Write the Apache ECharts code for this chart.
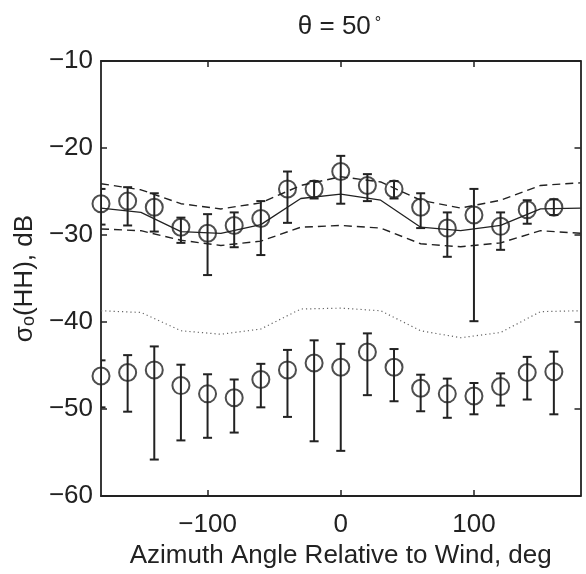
<!DOCTYPE html>
<html>
<head>
<meta charset="utf-8">
<script src="https://cdn.jsdelivr.net/npm/echarts@6/dist/echarts.min.js"></script>
<style>
html,body{margin:0;padding:0;background:#fff;}
#chart{width:586px;height:574px;}
</style>
</head>
<body>
<div id="chart"></div>
<script>
// Observation azimuths (deg)
const angles = [-180,-160,-140,-120,-100,-80,-60,-40,-20,0,20,40,60,80,100,120,140,160];
// Upper set (HH) mean and error bar ends (dB)
const hhMean = [-26.4,-26.1,-26.8,-29.1,-29.8,-28.9,-28.1,-24.7,-24.7,-22.7,-24.3,-24.7,-26.8,-29.2,-27.7,-29.0,-27.1,-26.8];
const hhHi   = [-24.7,-24.5,-25.2,-28.0,-27.6,-27.4,-26.1,-22.7,-23.8,-20.9,-23.0,-23.8,-25.2,-27.4,-24.7,-27.4,-26.0,-25.9];
const hhLo   = [-28.8,-28.9,-29.6,-30.9,-34.6,-31.4,-32.3,-28.6,-25.8,-26.4,-26.1,-25.8,-29.2,-32.5,-39.9,-31.7,-28.7,-27.7];
// Lower set mean and error bar ends (dB)
const lowMean = [-46.2,-45.8,-45.5,-47.3,-48.25,-48.7,-46.6,-45.5,-44.7,-45.2,-43.45,-45.2,-47.6,-48.25,-48.5,-47.4,-45.8,-45.7];
const lowHi   = [-44.4,-43.8,-42.8,-44.9,-46.0,-46.6,-44.8,-43.2,-42.1,-42.5,-41.3,-43.1,-46.05,-46.5,-47.0,-45.9,-44.0,-43.4];
const lowLo   = [-49.8,-50.3,-55.8,-53.6,-53.3,-52.7,-49.8,-50.9,-53.7,-54.8,-48.4,-49.1,-50.25,-51.0,-50.6,-49.6,-48.9,-50.6];
// Model curves
const modelAngles = [-180,-150,-120,-90,-60,-30,0,30,60,90,120,150,180];
const modelMid    = [-26.9,-27.4,-29.6,-29.8,-28.8,-25.8,-25.3,-26.0,-29.1,-29.5,-28.9,-27.0,-26.9];
const modelUpper  = [-24.1,-24.8,-26.4,-27.0,-26.3,-24.3,-23.3,-23.9,-26.0,-26.9,-26.0,-24.3,-24.0];
const modelLower  = [-29.3,-29.5,-30.6,-31.2,-30.7,-29.1,-28.9,-29.2,-31.0,-31.35,-30.9,-29.5,-29.8];
const modelDotted = [-38.7,-38.9,-41.0,-41.4,-40.8,-38.5,-38.4,-38.7,-41.0,-41.8,-41.2,-38.8,-38.7];
// Tick values
const xTicks = [-100,0,100];
const yTicks = [-60,-50,-40,-30,-20,-10];

const INK = '#222';
const FONT = 'Liberation Sans';
const minus = v => String(v).replace('-', '\u2212');

const pairs = (xs, ys) => xs.map((x,i)=>[x, ys[i]]);
const bars = (hi, lo) => angles.map((a,i)=>[a, hi[i], lo[i]]);

function renderBar(params, api){
  const x = api.value(0);
  const p1 = api.coord([x, api.value(1)]);
  const p2 = api.coord([x, api.value(2)]);
  const w = 4.5;
  const st = {stroke: INK, lineWidth: 2};
  return {type:'group', children:[
    {type:'line', shape:{x1:p1[0],y1:p1[1],x2:p2[0],y2:p2[1]}, style:st},
    {type:'line', shape:{x1:p1[0]-w,y1:p1[1],x2:p1[0]+w,y2:p1[1]}, style:st},
    {type:'line', shape:{x1:p2[0]-w,y1:p2[1],x2:p2[0]+w,y2:p2[1]}, style:st}
  ]};
}

const axisLineStyle = {show:true, onZero:false, lineStyle:{color:INK, width:1.8}};
const tickStyle = {show:true, inside:true, length:6, lineStyle:{color:INK, width:1.5}};

const chart = echarts.init(document.getElementById('chart'), null, {renderer:'canvas'});
chart.setOption({
  animation:false,
  backgroundColor:'#fff',
  textStyle:{fontFamily:FONT},
  title:{
    text:'{a|\u03b8 = 50}{s|\u00b0}',
    left:334.5, top:9, textAlign:'center',
    textStyle:{
      fontWeight:'normal',
      rich:{
        a:{fontSize:26, fontWeight:'normal', fontFamily:FONT, color:INK, lineHeight:26, padding:[10,0,0,0], verticalAlign:'bottom'},
        s:{fontSize:16, fontWeight:'normal', fontFamily:FONT, color:INK, lineHeight:16, padding:[2,0,0,4], verticalAlign:'top'}
      }
    }
  },
  grid:{left:88.5, right:5.5, top:61, bottom:72.5, containLabel:false},
  xAxis:[{
    type:'value', min:-180, max:180, position:'bottom',
    axisLine:axisLineStyle,
    axisTick:Object.assign({customValues:xTicks}, tickStyle),
    axisLabel:{customValues:xTicks, fontSize:26, color:INK, fontFamily:FONT, margin:16, formatter:minus},
    splitLine:{show:false},
    name:'Azimuth Angle Relative to Wind, deg', nameLocation:'middle', nameGap:46,
    nameTextStyle:{fontSize:26, color:INK, fontFamily:FONT}
  },{
    type:'value', min:-180, max:180, position:'top',
    axisLine:axisLineStyle,
    axisTick:Object.assign({customValues:xTicks}, tickStyle),
    axisLabel:{show:false}, splitLine:{show:false}
  }],
  yAxis:[{
    type:'value', min:-60, max:-10, interval:10, position:'left',
    axisLine:axisLineStyle,
    axisTick:tickStyle,
    axisLabel:{fontSize:26, color:INK, fontFamily:FONT, margin:8, formatter:minus},
    splitLine:{show:false},
    name:'{a|\u03c3}{b|o}{a|(HH), dB}', nameLocation:'middle', nameGap:44, nameRotate:90,
    nameTextStyle:{
      rich:{
        a:{fontSize:26, fontFamily:FONT, color:INK, lineHeight:26, verticalAlign:'top'},
        b:{fontSize:18, fontFamily:FONT, color:INK, lineHeight:18, padding:[12,0,0,0], verticalAlign:'bottom'}
      }
    }
  },{
    type:'value', min:-60, max:-10, interval:10, position:'right',
    axisLine:axisLineStyle,
    axisTick:tickStyle,
    axisLabel:{show:false}, splitLine:{show:false}
  }],
  series:[
    {type:'line', data:pairs(modelAngles, modelDotted), showSymbol:false, symbol:'none',
      lineStyle:{color:'#666', width:1.2, type:[1.2,3]}},
    {type:'line', data:pairs(modelAngles, modelUpper), showSymbol:false, symbol:'none',
      lineStyle:{color:INK, width:1.4, type:[8,5]}},
    {type:'line', data:pairs(modelAngles, modelLower), showSymbol:false, symbol:'none',
      lineStyle:{color:INK, width:1.4, type:[8,5]}},
    {type:'line', data:pairs(modelAngles, modelMid), showSymbol:false, symbol:'none',
      lineStyle:{color:INK, width:1.3}},
    {type:'custom', data:bars(hhHi, hhLo), renderItem:renderBar, clip:true},
    {type:'custom', data:bars(lowHi, lowLo), renderItem:renderBar, clip:true},
    {type:'scatter', data:pairs(angles, hhMean), symbol:'circle', symbolSize:17, clip:false,
      itemStyle:{color:'rgba(0,0,0,0)', borderColor:INK, borderWidth:2}},
    {type:'scatter', data:pairs(angles, lowMean), symbol:'circle', symbolSize:17, clip:false,
      itemStyle:{color:'rgba(0,0,0,0)', borderColor:INK, borderWidth:2}}
  ]
});
</script>
</body>
</html>
